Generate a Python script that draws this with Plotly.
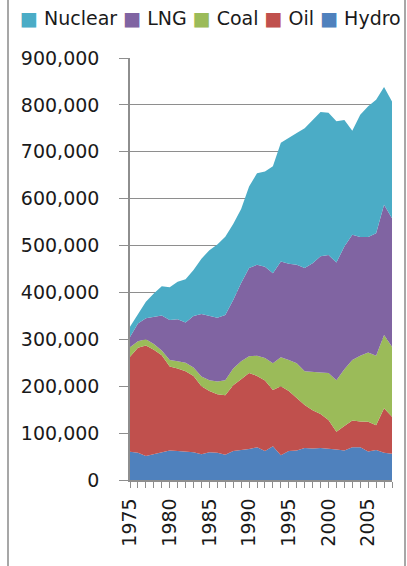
import plotly.graph_objects as go

# Generation by source (in GWh)
years = list(range(1975, 2009))

hydro = [60, 58, 51, 55, 60, 63, 62, 60, 59, 55, 59, 58, 54, 62, 64, 66, 70,
         62, 72, 53, 62, 63, 68, 67, 68, 67, 65, 63, 70, 70, 61, 64, 58, 56]
oil = [203, 224, 236, 223, 206, 179, 176, 172, 163, 145, 131, 125, 127, 140,
       151, 162, 152, 150, 120, 147, 128, 113, 92, 82, 73, 61, 38, 52, 57, 55,
       63, 53, 95, 79]
coal = [20, 14, 13, 12, 10, 14, 15, 18, 18, 21, 23, 27, 32, 36, 38, 36, 43,
        48, 57, 62, 66, 73, 72, 81, 88, 100, 110, 121, 129, 140, 148, 148,
        156, 149]
lng = [22, 38, 45, 58, 75, 85, 90, 86, 110, 133, 137, 136, 139, 146, 167,
       188, 194, 195, 192, 204, 205, 210, 220, 232, 248, 252, 251, 262, 267,
       253, 246, 261, 278, 274]
nuclear = [22, 21, 35, 50, 62, 70, 80, 92, 98, 118, 140, 156, 167, 162, 158,
           174, 195, 203, 228, 253, 269, 281, 298, 306, 308, 303, 301, 270,
           222, 261, 279, 285, 251, 249]

series = [
    ("Hydro", hydro, "#4F81BD"),
    ("Oil", oil, "#C0504D"),
    ("Coal", coal, "#9BBB59"),
    ("LNG", lng, "#8064A2"),
    ("Nuclear", nuclear, "#4BACC6"),
]

W, H = 407, 566
L, R, T, B = 130, 15, 58, 86
pw, ph = W - L - R, H - T - B

def px(x):
    return (x - L) / pw

def py(y):
    return (H - B - y) / ph

font = "DejaVu Sans"
grid = "#8e8e8e"

fig = go.Figure()
for name, vals, color in series:
    fig.add_trace(go.Scatter(
        x=years,
        y=[v * 1000 for v in vals],
        name=name,
        mode="lines",
        stackgroup="one",
        line=dict(width=0, color=color),
        fillcolor=color,
        showlegend=False,
    ))

# legend as one line of text, Excel-style (reversed order)
nb = "\u00a0"
parts = []
for name, vals, color in reversed(series):
    parts.append(f"<span style='color:{color}'>\u25a0</span>{nb}{name}")
legend_text = nb.join(parts)

fig.add_annotation(
    text=legend_text, xref="paper", yref="paper",
    x=px(18), y=py(18), xanchor="left", yanchor="middle",
    showarrow=False, font=dict(family=font, size=19, color="#1a1a1a"),
)

# outer chart frame (only the sides are visible)
for xpix in (8, 405):
    fig.add_shape(type="line", xref="paper", yref="paper",
                  x0=px(xpix), x1=px(xpix), y0=py(H + 20), y1=py(-20),
                  line=dict(color="#8a8a8a", width=1.5))

fig.update_layout(
    width=W, height=H,
    margin=dict(l=L, r=R, t=T, b=B),
    paper_bgcolor="white",
    plot_bgcolor="white",
    font=dict(family=font, size=19, color="#1a1a1a"),
    xaxis=dict(
        range=[1975, 2008],
        tick0=1975, dtick=5,
        tickangle=-90,
        ticks="outside", ticklen=6, tickcolor=grid, tickwidth=1.3,
        minor=dict(dtick=1, ticks="outside", ticklen=6, tickcolor=grid, tickwidth=1.3),
        showgrid=False,
        showline=True, linecolor=grid, linewidth=1.5,
        ticklabelstandoff=3,
        zeroline=False,
    ),
    yaxis=dict(
        range=[0, 900000],
        dtick=100000,
        tickformat=",d",
        ticks="outside", ticklen=9, tickcolor=grid, tickwidth=1.3,
        showgrid=True, gridcolor=grid, gridwidth=1.3,
        showline=True, linecolor=grid, linewidth=1.5,
        ticklabelstandoff=16,
        zeroline=False,
    ),
)

# drop the default body margin so the figure fills the window
fig.write_html(
    "out.html",
    config={"displayModeBar": False},
    post_script="document.body.style.margin = '0';",
)
